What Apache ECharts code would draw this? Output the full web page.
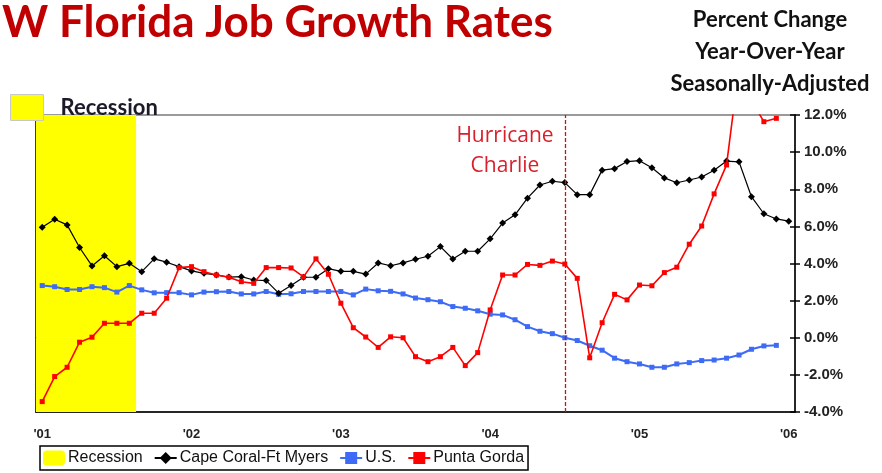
<!DOCTYPE html>
<html>
<head>
<meta charset="utf-8">
<script src="https://cdn.jsdelivr.net/npm/echarts@6/dist/echarts.min.js"></script>
<style>
  html, body { margin: 0; padding: 0; background: #fff; }
  #chart { width: 882px; height: 473px; }
</style>
</head>
<body>
<div id="chart"></div>
<script>
// monthly, Jan 2001 .. Jan 2006
const years = ['2001', '2002', '2003', '2004', '2005']
const months = ['01', '02', '03', '04', '05', '06', '07', '08', '09', '10', '11', '12']
const categories = years.flatMap(y => months.map(m => y + '-' + m)).concat(['2006-01'])

// 1 = recession month
const recession = [1, 1, 1, 1, 1, 1, 1, 1]

const capeCoral = [
  5.95, 6.38, 6.08, 4.86, 3.87, 4.42, 3.83, 4.01, 3.56, 4.25, 4.07, 3.83,
  3.60, 3.47, 3.38, 3.27, 3.29, 3.11, 3.08, 2.40, 2.81, 3.26, 3.26, 3.72,
  3.58, 3.58, 3.43, 4.03, 3.88, 4.03, 4.23, 4.39, 4.91, 4.24, 4.66, 4.66,
  5.33, 6.18, 6.62, 7.52, 8.23, 8.43, 8.36, 7.71, 7.71, 9.03, 9.11, 9.49,
  9.54, 9.16, 8.61, 8.35, 8.50, 8.66, 9.02, 9.52, 9.48, 7.60, 6.68, 6.40,
  6.28
]

const us = [
  2.81, 2.75, 2.60, 2.60, 2.75, 2.70, 2.46, 2.81, 2.58, 2.42, 2.43, 2.43,
  2.31, 2.46, 2.48, 2.49, 2.36, 2.36, 2.49, 2.34, 2.37, 2.49, 2.49, 2.49,
  2.49, 2.31, 2.62, 2.53, 2.50, 2.36, 2.14, 2.05, 1.94, 1.68, 1.59, 1.45,
  1.27, 1.23, 0.97, 0.60, 0.35, 0.22, 0.00, -0.15, -0.43, -0.67, -1.10, -1.29,
  -1.41, -1.59, -1.59, -1.41, -1.34, -1.23, -1.20, -1.10, -0.93, -0.62, -0.44, -0.41
]

const puntaGorda = [
  -3.44, -2.09, -1.59, -0.24, 0.03, 0.78, 0.78, 0.78, 1.32, 1.32, 2.13, 3.78,
  3.83, 3.56, 3.38, 3.26, 3.02, 2.93, 3.78, 3.78, 3.76, 3.28, 4.25, 3.42,
  1.86, 0.54, 0.04, -0.52, 0.05, 0.00, -1.02, -1.29, -1.02, -0.52, -1.50, -0.80,
  1.50, 3.38, 3.38, 3.95, 3.90, 4.13, 3.97, 3.20, -1.08, 0.81, 2.34, 2.04,
  2.84, 2.80, 3.51, 3.80, 5.04, 6.02, 7.75, 9.31, 14.6, 12.76, 11.64, 11.82
]

const hurricaneMonth = '2004-07'
const yTicks = { min: -4, max: 12, interval: 2 }

const chart = echarts.init(document.getElementById('chart'))

const yBase = {
  type: 'value',
  min: yTicks.min,
  max: yTicks.max,
  interval: yTicks.interval,
  splitLine: { show: false }
}

const recessionBar = {
  name: 'Recession',
  type: 'bar',
  stack: 'rec',
  barWidth: 13.5,
  z: 1,
  silent: true,
  itemStyle: { color: '#FFFF00' }
}

const option = {
  animation: false,
  textStyle: { fontFamily: 'Liberation Sans, Arial, sans-serif' },
  title: {
    text: 'W Florida Job Growth Rates',
    left: -3,
    top: -4,
    textStyle: { color: '#C00000', fontSize: 44, fontWeight: 'bold', fontFamily: 'Lato' }
  },
  graphic: [
    {
      type: 'text', x: 770, y: 4,
      style: {
        text: 'Percent Change\nYear-Over-Year\nSeasonally-Adjusted',
        fill: '#111', font: 'bold 22px Lato', lineHeight: 32, textAlign: 'center'
      }
    },
    {
      type: 'text', x: 505, y: 121,
      style: {
        text: 'Hurricane\nCharlie',
        fill: '#D8202C', font: '21px "Open Sans"', lineHeight: 30, textAlign: 'center'
      }
    }
  ],
  grid: {
    left: 36, right: 87, top: 115, bottom: 61,
    show: true, borderColor: '#9a9a9a', borderWidth: 2, backgroundColor: 'transparent'
  },
  legend: [
    {
      data: [{ name: 'Recession', icon: 'rect', itemStyle: { borderColor: '#c8c8c8', borderWidth: 1 } }],
      left: 5, top: 89,
      itemWidth: 33, itemHeight: 26,
      selectedMode: false,
      textStyle: { fontSize: 22, fontWeight: 'bold', color: '#1a1a2a', fontFamily: 'Lato', padding: [0, 0, 0, 12] }
    },
    {
      data: [
        { name: 'Recession', icon: 'roundRect' },
        'Cape Coral-Ft Myers', 'U.S.', 'Punta Gorda'
      ],
      left: 40, top: 446,
      itemWidth: 22, itemHeight: 15, itemGap: 11,
      padding: [4, 4, 4, 3],
      borderColor: '#000', borderWidth: 1.5,
      selectedMode: false,
      textStyle: { fontSize: 16, color: '#111', padding: [0, 0, 0, -2] }
    }
  ],
  xAxis: {
    type: 'category',
    data: categories,
    boundaryGap: true,
    axisLine: { onZero: false, lineStyle: { color: '#000', width: 1.5 } },
    axisTick: { interval: 11, length: 5, lineStyle: { color: '#000', width: 1.5 } },
    axisLabel: {
      interval: 11, margin: 16,
      fontSize: 13, fontWeight: 'bold', color: '#222',
      formatter: v => "'" + v.slice(2, 4)
    }
  },
  yAxis: [
    Object.assign({}, yBase, {
      position: 'right',
      axisLine: { show: true, lineStyle: { color: '#000', width: 1.5 } },
      axisTick: { show: true, length: 5, lineStyle: { color: '#000', width: 1.5 } },
      axisLabel: {
        margin: 9, fontSize: 15, fontWeight: 'bold', color: '#222',
        formatter: v => v.toFixed(1) + '%'
      }
    }),
    Object.assign({}, yBase, {
      position: 'right',
      axisLine: { show: false },
      axisTick: { show: true, inside: true, length: 5, lineStyle: { color: '#000', width: 1.5 } },
      axisLabel: { show: false }
    }),
    Object.assign({}, yBase, {
      position: 'left',
      axisLine: { show: true, lineStyle: { color: '#222', width: 1.5 } },
      axisTick: { show: false },
      axisLabel: { show: false }
    })
  ],
  series: [
    Object.assign({}, recessionBar, { data: recession.map(r => r ? yTicks.max : null) }),
    Object.assign({}, recessionBar, { data: recession.map(r => r ? yTicks.min : null) }),
    {
      name: 'Cape Coral-Ft Myers',
      type: 'line',
      data: capeCoral,
      symbol: 'diamond',
      symbolSize: 7,
      z: 4,
      itemStyle: { color: '#000' },
      lineStyle: { color: '#000', width: 1.2 }
    },
    {
      name: 'U.S.',
      type: 'line',
      data: us,
      symbol: 'rect',
      symbolSize: 5,
      z: 3,
      itemStyle: { color: '#3D6BF5' },
      lineStyle: { color: '#3D6BF5', width: 2 }
    },
    {
      name: 'Punta Gorda',
      type: 'line',
      data: puntaGorda,
      symbol: 'rect',
      symbolSize: 5,
      z: 5,
      itemStyle: { color: '#FF0000' },
      lineStyle: { color: '#FF0000', width: 1.6 },
      markLine: {
        silent: true,
        symbol: ['none', 'none'],
        label: { show: false },
        lineStyle: { color: '#D01010', type: [4, 2], width: 1.3 },
        data: [{ xAxis: hurricaneMonth }]
      }
    }
  ]
}

chart.setOption(option)
</script>
</body>
</html>
